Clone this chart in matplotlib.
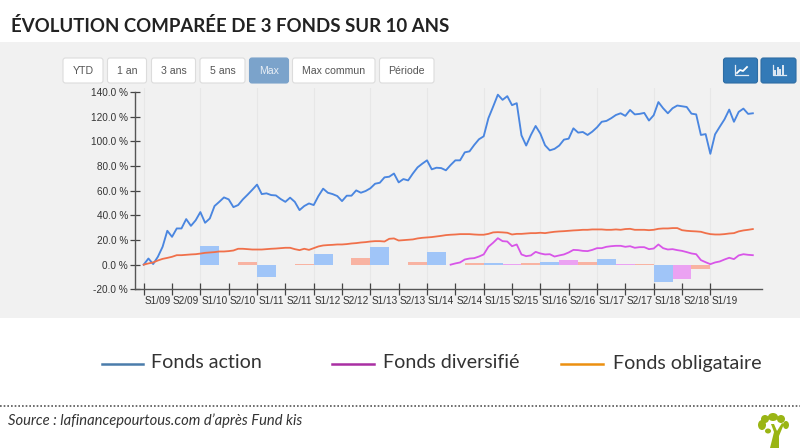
"""
Evolution comparee de 3 fonds sur 10 ans.
"""
import matplotlib
matplotlib.use('Agg')
import matplotlib.pyplot as plt
from matplotlib.patches import Ellipse, FancyBboxPatch, Polygon, Rectangle

# monthly performance in %, starting january 2009
fonds_action = [
    0, 5, 0.5, 6.4, 14.5, 27.5, 22.6, 29.4, 29.4, 37, 31.5, 36,
    42.7, 34, 37.5, 47.6, 51, 54.6, 53, 46.7, 48.4, 53, 56.8, 60.8,
    65, 57.3, 57.9, 56.5, 56.2, 53.3, 51, 54.4, 51, 44.3, 47.6, 49.7,
    48.4, 55.7, 61.7, 58.4, 57.3, 55.7, 51.6, 56, 56, 60.3, 58.4, 59.8,
    62, 65.7, 66.5, 70.9, 71.4, 74, 66.8, 69.5, 68.4, 74, 79, 82,
    84.7, 77.4, 78.7, 78.4, 76.6, 80.9, 84.7, 84.7, 91.2, 92, 97.2, 101.8,
    104.2, 118.9, 128.3, 138, 133.8, 136.8, 129.5, 131.1, 105, 96.7, 105.3, 112.6,
    106.4, 96.9, 92.8, 94, 96.7, 101.5, 102.3, 110.7, 107.2, 107.7, 105.3, 108,
    111.5, 116, 116.7, 118.9, 121.5, 122.9, 120.8, 125.6, 122, 122.4, 123.2, 117,
    121.3, 132, 127, 122.9, 127, 129.2, 128.6, 128, 122.6, 122, 105.3, 106,
    90, 105.8, 112, 118, 125.9, 116, 124, 126.7, 122.4, 122.9,
]
fonds_obligataire = [
    0, 1, 1.8, 3.4, 4.7, 5.5, 6.4, 7.7, 7.7, 8, 8.3, 8.5,
    9, 9.6, 9.9, 10.2, 10.7, 10.7, 11, 11.5, 12.9, 12.9, 12.6, 12.3,
    12.3, 12.3, 12.6, 12.9, 13.1, 13.4, 13.7, 13.7, 12.6, 11.8, 12.9, 12,
    13.4, 14.8, 15.6, 15.9, 16.1, 16.4, 16.4, 16.7, 17.2, 17.5, 18, 18.3,
    18.8, 19.1, 19.1, 18.8, 21, 21.3, 19.6, 19.9, 20.2, 20.5, 21.3, 21.8,
    22.1, 22.4, 22.9, 23.4, 24, 24.3, 24.5, 24.8, 24.8, 24.8, 24.5, 24.3,
    24.3, 25, 26.2, 26.4, 26.2, 25.9, 24.5, 25, 25, 25.3, 25.6, 25.6,
    25.9, 25.6, 26.2, 26.7, 27, 27.2, 27.5, 27.8, 28, 28.3, 28.3, 28.6,
    28.6, 28.6, 28.3, 28.3, 28.6, 28.3, 28.9, 29.1, 28.3, 28.3, 28.3, 28,
    28.3, 29.1, 29.4, 29.4, 29.7, 29.7, 28, 27.5, 27.2, 27, 26.7, 25.6,
    24.8, 24.5, 24.5, 24.8, 25.3, 25.6, 27, 27.8, 28.3, 28.9,
]
# the diversified fund only starts in june 2014
diversifie_start = 65
fonds_diversifie = [
    0, 1, 1.8, 4.2, 5, 5.3, 6.6,
    8.3, 14.5, 17.8, 21.5, 19.1, 18.8, 15, 16.4, 8.3, 6.9, 7.5, 10.4,
    9.1, 8.3, 8.5, 6.6, 7.5, 8.3, 9.9, 12, 11.8, 11.2, 11, 12,
    13.4, 13.4, 14.5, 15, 15.3, 15.3, 14.5, 15, 13.7, 14.2, 14.2, 12.6,
    13.1, 16.4, 13.4, 12.3, 12.6, 11.8, 11.2, 10.2, 9.1, 8.5, 3.7, 2,
    0.4, 1.8, 2.6, 4.2, 5.6, 4.5, 7.5, 8.5, 8, 7.7,
]

# yearly performance in %
bar_years = [2010, 2011, 2012, 2013, 2014, 2015, 2016, 2017, 2018]
bar_action = [15.4, -10, 8.7, 14.1, 10, 1.1, 1.9, 4.3, -13.8]
bar_diversifie = [0, 0, 0, 0, 0, 0.8, 3.5, 0.3, -11.4]
bar_obligataire = [2.4, 0.5, 5.1, 2.4, 1.1, 1.1, 1.9, 0.3, -3.3]

tick_labels = ['S1/09', 'S2/09', 'S1/10', 'S2/10', 'S1/11', 'S2/11', 'S1/12', 'S2/12',
               'S1/13', 'S2/13', 'S1/14', 'S2/14', 'S1/15', 'S2/15', 'S1/16', 'S2/16',
               'S1/17', 'S2/17', 'S1/18', 'S2/18', 'S1/19']
y_ticks = [-20, 0, 20, 40, 60, 80, 100, 120, 140]

range_buttons = ['YTD', '1 an', '3 ans', '5 ans', 'Max', 'Max commun', 'Période']
legend_names = ['Fonds action', 'Fonds diversifié', 'Fonds obligataire']
legend_colors = ['#4a7cab', '#a92fa3', '#ec9010']

W, H = 800, 448
UI_FONT = 'Liberation Sans'
DISPLAY_FONT = 'Lato'

fig = plt.figure(figsize=(W / 100, H / 100), dpi=100, facecolor='white')

# page furniture is placed on an overlay in pixel coordinates
page = fig.add_axes([0, 0, 1, 1], zorder=0)
page.set_xlim(0, W)
page.set_ylim(H, 0)
page.axis('off')
page.add_patch(Rectangle((0, 42), W, 276, fc='#f1f1f1', ec='none'))

page.text(11, 26.5, 'ÉVOLUTION COMPARÉE DE 3 FONDS SUR 10 ANS', family=DISPLAY_FONT,
          weight='bold', fontsize=13.4, color='#222222', va='center')


def button(x0, x1, text=None, fc='white', ec='#dcdcdc', color='#555555'):
    page.add_patch(FancyBboxPatch((x0 + 2, 60), x1 - x0 - 4, 21,
                                  boxstyle='round,pad=2,rounding_size=2.5',
                                  fc=fc, ec=ec, lw=0.8))
    if text:
        page.text((x0 + x1) / 2, 71, text, family=UI_FONT, fontsize=7.6, color=color,
                  ha='center', va='center')


button_edges = [(63, 103), (107.5, 146.5), (151.5, 195.5), (200, 245),
                (249.5, 288.5), (292.5, 375), (379.5, 434)]
for name, (x0, x1) in zip(range_buttons, button_edges):
    if name == 'Max':
        button(x0, x1, name, fc='#7ba3cb', ec='#7ba3cb', color='#e8eef5')
    else:
        button(x0, x1, name)

button(723.5, 757.5, fc='#337ab7', ec='#2e6da4')
button(761, 796, fc='#337ab7', ec='#2e6da4')
page.plot([735, 735, 748], [65, 75, 75], color='#dfe9f3', lw=0.9)
page.plot([737, 740, 743, 747], [73, 70, 71, 67], color='white', lw=1.3)
page.plot([773, 773, 786], [65, 75, 75], color='#dfe9f3', lw=0.9)
for bx, top in zip([775, 777.5, 780, 782.5], [71, 68, 70, 66]):
    page.plot([bx, bx], [top, 74], color='#dfe9f3', lw=1.4)

# chart axes, 135-762 px across and 88-289 px down
ax = fig.add_axes([135 / W, 1 - 289.3 / H, (762 - 135) / W, (289.3 - 88) / H], zorder=1)
ax.patch.set_visible(False)

x_months = list(range(len(fonds_action)))
year_ticks = list(range(0, 132, 12))
half_ticks = [i * 6 for i in range(len(tick_labels))]

for tick in year_ticks:
    ax.axvline(tick, color='#e7e7e7', lw=0.8, zorder=0)

bar_x = [(year - 2009) * 12 for year in bar_years]
ax.bar(bar_x, bar_action, width=4, align='edge', color='#a0c5f8', zorder=2)
ax.bar([x + 4 for x in bar_x], bar_diversifie, width=4, align='edge', color='#eba2f2', zorder=2)
ax.bar([x + 8 for x in bar_x], bar_obligataire, width=4, align='edge', color='#f8b3a2', zorder=2)

ax.plot(x_months, fonds_action, color='#4a86e0', lw=1.35, zorder=3)
ax.plot(x_months, fonds_obligataire, color='#f0704a', lw=1.3, zorder=3)
ax.plot(range(diversifie_start, diversifie_start + len(fonds_diversifie)), fonds_diversifie,
        color='#d855e8', lw=1.3, zorder=3)

ax.set_xlim((135 - 143.7) / 4.722, (762 - 143.7) / 4.722)
ax.set_ylim(-20, (264.7 - 88) / 1.232)
ax.set_yticks(y_ticks)
ax.set_yticklabels(['%.1f %%' % v for v in y_ticks], family=UI_FONT, fontsize=7.2,
                   color='#333333')
ax.set_xticks(half_ticks)
ax.set_xticklabels([])
ax.set_xticks([t + 3 for t in half_ticks], minor=True)
ax.set_xticklabels(tick_labels, minor=True, family=UI_FONT, fontsize=7.2, color='#333333')
ax.tick_params(axis='x', which='major', direction='inout', length=8, width=0.9, color='#444444')
ax.tick_params(axis='x', which='minor', length=0, pad=5)
ax.tick_params(axis='y', direction='inout', length=7, width=0.9, color='#444444', pad=1.5)

for side in ['top', 'right']:
    ax.spines[side].set_visible(False)
for side in ['left', 'bottom']:
    ax.spines[side].set_color('#555555')
    ax.spines[side].set_linewidth(1.0)
ax.spines['left'].set_bounds(-20, 140)

# legend
legend_x = [(102, 143, 151), (332, 374, 383), (561, 603, 613)]
for name, color, (x0, x1, tx) in zip(legend_names, legend_colors, legend_x):
    page.plot([x0, x1], [364, 364], color=color, lw=1.8)
    page.text(tx, 363, name, family=DISPLAY_FONT, fontsize=14.1, color='#333333', va='center')

# footer
page.plot([0, W], [406.5, 406.5], color='#555555', lw=1.2, ls=(0, (1, 1.2)))
page.text(8, 420.5, 'Source : lafinancepourtous.com d’après Fund kis', family=DISPLAY_FONT,
          style='italic', fontsize=10.65, color='#333333', va='center')

# tree logo
green = '#9ab514'
page.add_patch(Polygon([(770, 448), (774, 432), (771, 424), (774, 424), (777, 431),
                        (782, 423), (784, 424), (779, 436), (779, 448)], fc=green, ec='none'))
for cx, cy, rx, ry in [(762, 425, 4, 5), (765, 419, 4, 4), (773, 417, 5, 4),
                       (781, 419, 4, 4), (786, 425, 3, 4), (768, 431, 3, 2.5)]:
    page.add_patch(Ellipse((cx, cy), 2 * rx, 2 * ry, fc=green, ec='none'))

fig.savefig('out.png', dpi=100)
